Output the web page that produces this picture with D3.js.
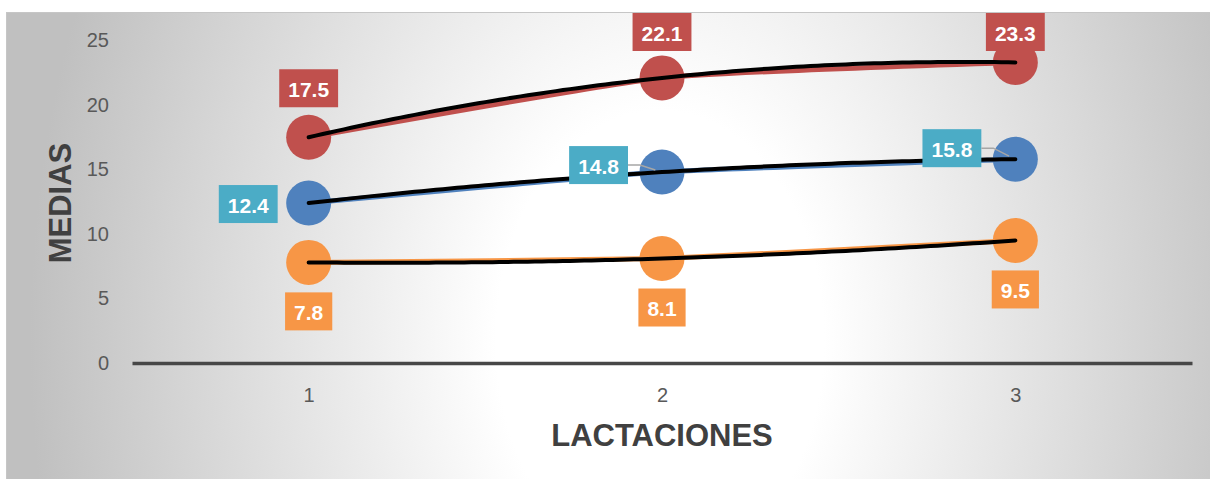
<!DOCTYPE html>
<html>
<head>
<meta charset="utf-8">
<script src="https://cdn.jsdelivr.net/npm/d3@7"></script>
<style>
  html, body { margin: 0; padding: 0; background: #ffffff; }
  svg { display: block; }
</style>
</head>
<body>
<svg id="chart" width="1210" height="479"></svg>
<script>
// Lactaciones en el eje X, medias por serie
const categories = [1, 2, 3];
const serieRoja = [17.5, 22.1, 23.3];
const serieAzul = [12.4, 14.8, 15.8];
const serieNaranja = [7.8, 8.1, 9.5];
const yTicks = [0, 5, 10, 15, 20, 25];
const xTitle = "LACTACIONES";
const yTitle = "MEDIAS";

const W = 1210, H = 479;
const frame = { x: 6, y: 12 };
const plot = { left: 132, right: 1192, top: 40.5, bottom: 363 };

const series = [
  { values: serieRoja,    marker: "#C0504D", line: "#C0504D", box: "#C0504D", place: "above" },
  { values: serieAzul,    marker: "#4F81BD", line: "#4F81BD", box: "#4BACC6", place: "left" },
  { values: serieNaranja, marker: "#F79646", line: "#F79646", box: "#F79646", place: "below" }
];
// nudges applied to the left-placed labels (gap from marker centre, dy)
const leftNudge = [{ gap: 31, dy: 1 }, { gap: 34, dy: -7 }, { gap: 34, dy: -11 }];

const svg = d3.select("#chart");
const defs = svg.append("defs");
const grad = defs.append("radialGradient")
  .attr("id", "bg")
  .attr("gradientUnits", "userSpaceOnUse")
  .attr("cx", 660).attr("cy", 340).attr("r", 630)
  .attr("gradientTransform", "translate(660,340) scale(1,1.4) translate(-660,-340)");
grad.append("stop").attr("offset", 0).attr("stop-color", "#ffffff");
grad.append("stop").attr("offset", 0.26).attr("stop-color", "#ffffff");
grad.append("stop").attr("offset", 1).attr("stop-color", "#c0c0c0");

svg.append("rect")
  .attr("x", frame.x + 0.5).attr("y", frame.y + 0.5)
  .attr("width", W - frame.x + 2).attr("height", H - frame.y + 2)
  .attr("fill", "url(#bg)")
  .attr("stroke", "#c6c6c6").attr("stroke-width", 1);

const x = d3.scalePoint().domain(categories).range([plot.left, plot.right]).padding(0.5);
const xc = d3.scaleLinear().domain([categories[0], categories[categories.length - 1]])
  .range([x(categories[0]), x(categories[categories.length - 1])]);
const y = d3.scaleLinear().domain([0, 25]).range([plot.bottom, plot.top]);

// Y axis: labels only
const yAxis = svg.append("g")
  .attr("transform", `translate(${plot.left},0)`)
  .call(d3.axisLeft(y).tickValues(yTicks).tickSize(0).tickPadding(23));
yAxis.select(".domain").remove();
yAxis.selectAll("text")
  .attr("fill", "#595959")
  .style("font-family", "'Liberation Sans', Arial, sans-serif")
  .style("font-size", "20px");

// X axis with heavy baseline
const xAxis = svg.append("g")
  .attr("transform", `translate(0,${plot.bottom})`)
  .call(d3.axisBottom(x).tickSize(0).tickPadding(25));
xAxis.select(".domain").attr("stroke", "#474747").attr("stroke-width", 3.5);
xAxis.selectAll("text")
  .attr("fill", "#595959")
  .style("font-family", "'Liberation Sans', Arial, sans-serif")
  .style("font-size", "20px");

// Axis titles
svg.append("text")
  .attr("x", x(2)).attr("y", 446)
  .attr("text-anchor", "middle")
  .attr("fill", "#404040")
  .style("font-family", "'Liberation Sans', Arial, sans-serif")
  .style("font-weight", "bold").style("font-size", "31px")
  .text(xTitle);
svg.append("text")
  .attr("transform", "translate(71,203) rotate(-90)")
  .attr("text-anchor", "middle")
  .attr("fill", "#404040")
  .style("font-family", "'Liberation Sans', Arial, sans-serif")
  .style("font-weight", "bold").style("font-size", "31px")
  .text(yTitle);

// Quadratic trend line through the three means (polynomial of order 2)
function trend(vals) {
  const xs = categories;
  return t => {
    let s = 0;
    for (let i = 0; i < xs.length; i++) {
      let l = 1;
      for (let j = 0; j < xs.length; j++) if (j !== i) l *= (t - xs[j]) / (xs[i] - xs[j]);
      s += vals[i] * l;
    }
    return s;
  };
}

const smooth = d3.line()
  .x((d, i) => x(categories[i]))
  .y(d => y(d))
  .curve(d3.curveCardinal.tension(0.55));
const trendLine = d3.line().x(d => xc(d[0])).y(d => y(d[1]));
const steps = d3.range(categories[0], categories[categories.length - 1] + 1e-9, 0.02);

const gSeries = svg.append("g");
series.forEach(s => {
  const g = gSeries.append("g");
  g.selectAll("circle").data(s.values).join("circle")
    .attr("cx", (d, i) => x(categories[i]))
    .attr("cy", d => y(d))
    .attr("r", 22.5)
    .attr("fill", s.marker);
  g.append("path")
    .attr("d", smooth(s.values))
    .attr("fill", "none").attr("stroke", s.line).attr("stroke-width", 5);
});
series.forEach(s => {
  const f = trend(s.values);
  gSeries.append("path")
    .attr("d", trendLine(steps.map(t => [t, f(t)])))
    .attr("fill", "none").attr("stroke", "#000000").attr("stroke-width", 4)
    .attr("stroke-linecap", "round");
});

// Data labels
const gLabels = svg.append("g")
  .style("font-family", "'Liberation Sans', Arial, sans-serif")
  .style("font-weight", "bold").style("font-size", "21px");
const boxH = 38;
series.forEach(s => {
  s.values.forEach((v, i) => {
    const px = x(categories[i]), py = y(v);
    const g = gLabels.append("g");
    const txt = g.append("text")
      .attr("fill", "#ffffff")
      .attr("text-anchor", "middle")
      .attr("dominant-baseline", "central")
      .text(d3.format(".1f")(v));
    const bw = txt.node().getComputedTextLength() + 18;
    let cx, cy;
    if (s.place === "above") {
      cx = px;
      cy = Math.max(frame.y + 1 + boxH / 2, py - 49);
    } else if (s.place === "below") {
      cx = px;
      cy = py + 49;
    } else {
      const n = leftNudge[i];
      cx = px - n.gap - bw / 2;
      cy = py + n.dy;
    }
    g.insert("rect", "text")
      .attr("x", cx - bw / 2).attr("y", cy - boxH / 2)
      .attr("width", bw).attr("height", boxH)
      .attr("fill", s.box);
    txt.attr("x", cx).attr("y", cy + 1);
    if (s.place === "left" && Math.abs(cy - py) > 4) {
      const kx = cx + bw / 2 + 12, ky = cy;
      const dx = kx - px, dy = ky - py, len = Math.hypot(dx, dy);
      const ex = px + dx / len * 7, ey = py + dy / len * 7;
      gLabels.append("path")
        .attr("d", `M${cx + bw / 2},${ky}H${kx}L${ex},${ey}`)
        .attr("fill", "none").attr("stroke", "#a6a6a6").attr("stroke-width", 1.5);
    }
  });
});
</script>
</body>
</html>
